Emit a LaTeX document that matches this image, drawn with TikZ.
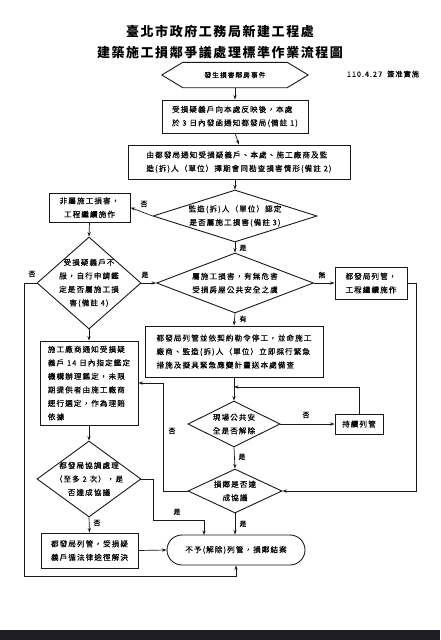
\documentclass[tikz,border=0pt]{standalone}
\usepackage{fontspec}
\newfontfamily\cjk[LetterSpace=14,FakeBold=0.2]{Noto Sans CJK TC}
\newfontfamily\cjktitle[LetterSpace=12]{Noto Sans CJK TC}
\usetikzlibrary{arrows.meta,calc,shapes.geometric}
\definecolor{bandcol}{RGB}{30,30,36}
\begin{document}
\begin{tikzpicture}[x=1pt,y=-1pt,
  txt/.style={font=\cjk\fontsize{7.6}{13.5}\selectfont, text=black},
  lbl/.style={font=\cjk\fontsize{7}{8}\selectfont, text=black, inner sep=1pt},
  box/.style={draw=black!90, line width=0.9pt, rectangle, inner sep=2pt, txt},
  dia/.style={draw=black!90, line width=0.9pt, shape=diamond, inner sep=0pt},
  ln/.style={draw=black!90, line width=0.7pt},
  arr/.style={ln, -{Stealth[length=4.5pt,width=3.2pt]}}
]
\useasboundingbox (0,0) rectangle (440,640);
\fill[white] (0,0) rectangle (440,640);
\fill[bandcol] (0,630) rectangle (440,640);

% titles
\node[font=\cjktitle\bfseries\fontsize{13}{15}\selectfont] (title1) at (220,32) {臺北市政府工務局新建工程處};
\node[font=\cjktitle\bfseries\fontsize{13}{15}\selectfont] (title2) at (220,53) {建築施工損鄰爭議處理標準作業流程圖};
\node[lbl, font=\cjk\fontsize{7.2}{8}\selectfont] (date) at (383,74) {110.4.27\ \ 簽准實施};

% start hexagon
\node[txt, font=\cjk\fontsize{6.8}{8}\selectfont, minimum width=146, minimum height=25, inner sep=0] (start) at (235,75) {發生損害鄰房事件};
\draw[ln, line width=0.9pt] (start.west) -- ($(start.north west)+(21,0)$) -- ($(start.north east)+(-21,0)$) -- (start.east) -- ($(start.south east)+(-21,0)$) -- ($(start.south west)+(21,0)$) -- cycle;

% boxes
\node[box, align=left, minimum width=146, minimum height=33] (b1) at (235,116.5) {受損疑義戶向本處反映後，本處\\於 3 日內發函通知都發局(備註 1)};
\node[box, align=left, minimum width=222, minimum height=34] (b2) at (239,162) {由都發局通知受損疑義戶、本處、施工廠商及監\\造(拆)人（單位）擇期會同勘查損害情形(備註 2)};

\node[dia, minimum width=164, minimum height=52] (d1) at (235,216) {};
\node[txt, align=center] (d1t) at (d1) {監造(拆)人（單位）認定\\是否屬施工損害(備註 3)};

\node[box, align=center, minimum width=81, minimum height=29] (nb) at (89.5,207.5) {非屬施工損害，\\工程繼續施作};

\node[dia, minimum width=104, minimum height=92] (d2) at (89,283) {};
\node[txt, align=center] (d2t) at (d2) {受損疑義戶不\\服，自行申請鑑\\定是否屬施工損\\害(備註 4)};

\node[dia, minimum width=157, minimum height=60] (d3) at (235,283) {};
\node[txt, align=center] (d3t) at (d3) {屬施工損害，有無危害\\受損房屋公共安全之虞};

\node[box, align=center, minimum width=72, minimum height=32] (cb) at (371,283) {都發局列管，\\工程繼續施作};

\node[box, align=left, minimum width=178, minimum height=51] (b4) at (234,351.5) {都發局列管並依契約勒令停工，並命施工\\廠商、監造(拆)人（單位）立即採行緊急\\措施及擬具緊急應變計畫送本處備查};

\node[dia, minimum width=92, minimum height=46] (d6) at (234,424) {};
\node[txt, align=center] (d6t) at (d6) {現場公共安\\全是否解除};

\node[box, align=center, minimum width=48, minimum height=20] (keep) at (359,424) {持續列管};

\node[dia, minimum width=94, minimum height=44] (d5) at (235,491) {};
\node[txt, align=center] (d5t) at (d5) {損鄰是否達\\成協議};

\node[box, align=left, minimum width=98, minimum height=84] (b3) at (89,383) {施工廠商通知受損疑\\義戶 14 日內指定鑑定\\機構辦理鑑定，未限\\期提供者由施工廠商\\逕行選定，作為理賠\\依據};

\node[dia, minimum width=104, minimum height=76] (d4) at (89,479) {};
\node[txt, align=center] (d4t) at (d4) {都發局協調處理\\（至多 2 次），是\\否達成協議};

\node[box, align=left, minimum width=97, minimum height=35] (b5) at (89.5,550.5) {都發局列管，受損疑\\義戶循法律途徑解決};

\node[box, rounded corners=15pt, minimum width=138, minimum height=30] (end) at (236,550) {不予(解除)列管，損鄰結案};

% coordinates
\coordinate (c1) at (24,283);
\coordinate (c2) at (24,576);
\coordinate (c3) at (236,576);
\coordinate (r1) at (416,283);
\coordinate (r2) at (416,491);
\coordinate (k1) at (359,387);
\coordinate (k2) at (234,387);
\coordinate (l1) at (163,491);
\coordinate (l2) at (163,383);
\coordinate (m1) at (153,479);
\coordinate (m2) at (153,520);
\coordinate (m3) at (204,520);
\coordinate (m4) at (204,535);

% connectors
\draw[arr] (start.south) -- (b1.north);
\draw[arr] (b1.south) -- (b2.north);
\draw[arr] (b2.south -| d1.north) -- (d1.north);
\draw[arr] (d1.west) -- (nb.east);
\draw[arr] (d1.south) -- (d3.north);
\draw[arr] (nb.south) -- (d2.north);
\draw[arr] (d2.east) -- (d3.west);
\draw[arr] (d2.west) -- (c1) -- (c2) -- (c3) -- (end.south);
\draw[arr] (d3.east) -- (cb.west);
\draw[arr] (cb.east) -- (r1) -- (r2) -- (d5.east);
\draw[arr] (d3.south) -- (b4.north);
\draw[arr] (b4.south) -- (d6.north);
\draw[arr] (keep.north) -- (k1) -- (k2);
\draw[arr] (d6.east) -- (keep.west);
\draw[arr] (d6.south) -- (d5.north);
\draw[arr] (d5.south) -- (d5.south |- end.north);
\draw[arr] (d5.west) -- (l1) -- (l2) -- (b3.east);
\draw[arr] (d2.south) -- (b3.north);
\draw[arr] (b3.south) -- (d4.north);
\draw[arr] (d4.east) -- (m1) -- (m2) -- (m3) -- (m4);
\draw[arr] (d4.south) -- (b5.north);
\draw[arr] (b5.east) -- (end.west);

% labels
\node[lbl] (L1) at (144,204) {否};
\node[lbl] (L2) at (243,248) {是};
\node[lbl] (L3) at (32,274) {否};
\node[lbl] (L4) at (145,275) {是};
\node[lbl] (L5) at (322,275) {無};
\node[lbl] (L6) at (243,319) {有};
\node[lbl] (L7) at (306,415) {否};
\node[lbl] (L8) at (242,457) {是};
\node[lbl] (L9) at (243,524) {是};
\node[lbl] (L10) at (172,431) {否};
\node[lbl] (L11) at (177,512) {是};
\node[lbl] (L12) at (97,523) {否};
\end{tikzpicture}
\end{document}
